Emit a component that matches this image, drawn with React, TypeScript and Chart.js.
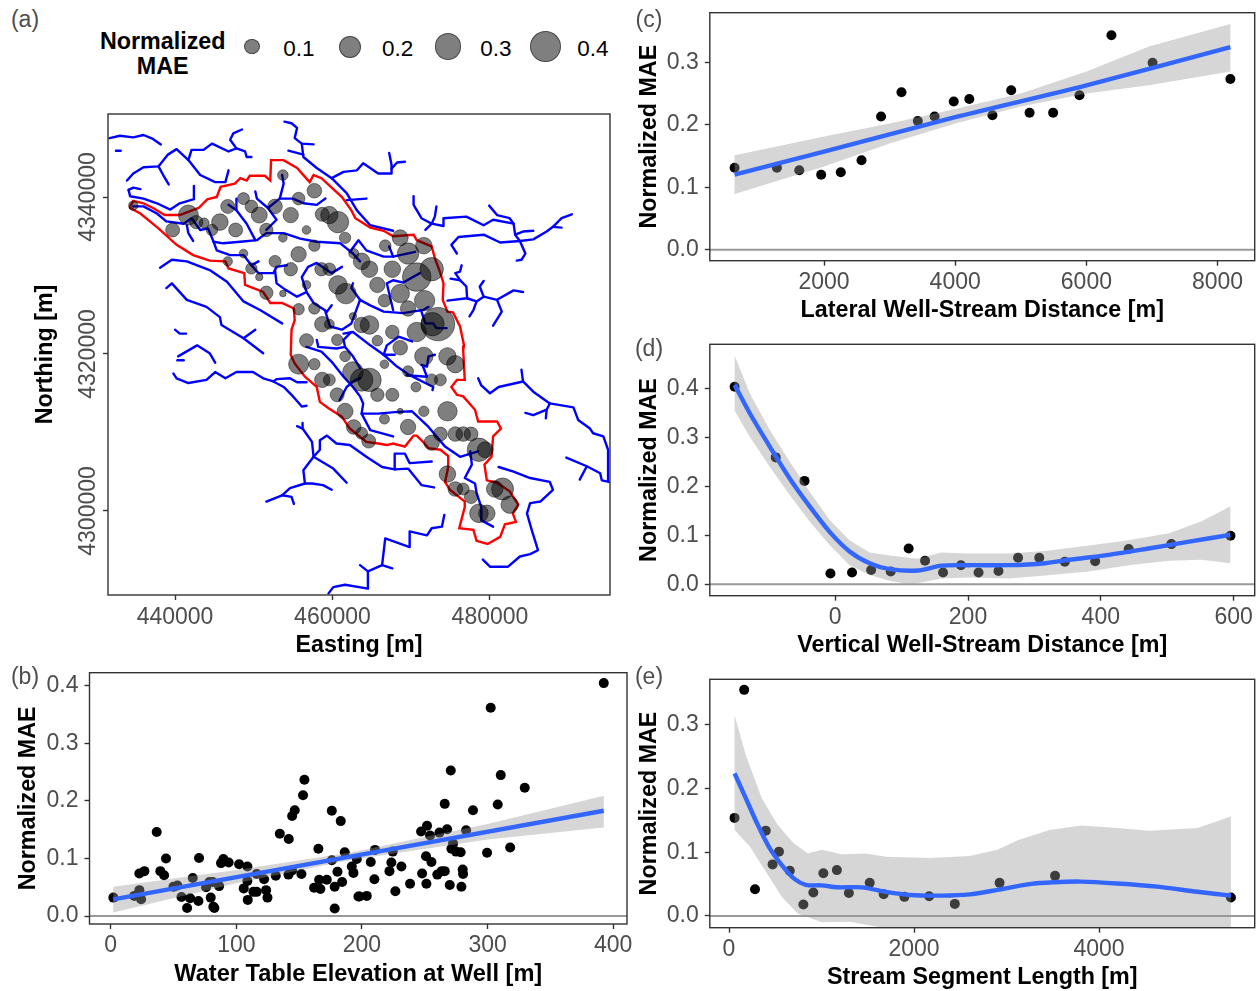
import React, { useEffect, useRef } from "react";
import { Chart, registerables } from "chart.js";

Chart.register(...registerables);

// ---------- Panel (a): map data. Eastings are km east of 400000 m, northings km north of 4300000 m ----------
const wellEastKm = [34.7,41.7,39.7,42.7,43.7,44.7,45.7,47.7,46.7,48.7,49.7,50.7,52.7,54.7,53.7,55.7,57.7,58.7,59.6,60.7,61.6,56.7,57.7,53.7,51.6,48.7,46.7,49.7,50.7,52.7,55.7,54.7,58.6,59.6,62.7,63.7,60.7,61.7,56.7,51.6,53.7,55.7,57.7,58.7,59.6,62.6,63.7,64.7,56.7,60.6,61.6,55.7,57.7,58.7,59.6,62.6,63.7,64.7,66.6,69.6,72.6,73.7,70.6,65.7,67.6,60.6,61.6,68.6,71.6,74.6,66.6,69.6,62.7,63.7,64.6,66.7,68.6,69.6,71.6,64.7,67.6,65.7,70.7,72.6,68.6,71.7,66.6,69.6,67.6,70.7,65.7,68.6,71.6,74.6,75.6,72.7,73.4,73.7,72.6,75.6,76.6,77.6,78.6,79.4,74.6,75.6,76.6,77.6,78.6,79.6,80.6,81.6,82.5];
const wellNorthKm = [38.9,37.7,35.8,36.8,36.7,35.8,36.8,35.8,38.8,39.8,38.8,37.7,38.8,37.7,42.8,39.8,40.8,37.8,37.7,36.8,34.8,35.8,33.8,34.8,35.8,32.8,31.8,30.9,29.8,31.8,32.7,30.8,30.8,30.8,32.8,31.8,28.8,27.7,28.8,27.8,27.7,25.7,25.8,23.8,23.8,24.8,23.7,23.7,21.7,21.8,19.7,18.7,18.7,16.7,16.7,17.7,16.7,16.7,18.7,17.8,16.7,16.7,15.8,14.8,14.8,14.8,12.7,12.7,12.7,12.7,11.7,10.7,10.7,9.9,8.9,33.8,34.8,32.8,33.8,30.8,30.8,28.8,29.8,30.8,27.7,26.8,26.8,25.8,22.8,22.8,21.7,20.8,19.7,19.7,18.7,23.8,23.8,9.8,8.7,9.8,9.8,9.8,7.8,7.8,4.7,2.8,2.8,1.8,-0.3,-0.3,2.8,2.8,0.8];
const wellMae = [.032,.146,.071,.065,.036,.047,.1,.071,.071,.052,.058,.093,.078,.086,.041,.058,.078,.071,.11,.167,.047,.027,.047,.027,.065,.027,.032,.047,.02,.052,.086,.065,.065,.058,.036,.1,.126,.155,.027,.065,.016,.047,.047,.086,.036,.02,.086,.126,.071,.047,.041,.146,.047,.086,.052,.155,.186,.2,.027,.044,.052,.052,.036,.065,.062,.071,.093,.013,.039,.137,.036,.086,.078,.052,.071,.049,.093,.167,.1,.1,.1,.086,.298,.2,.126,.152,.058,.086,.067,.137,.041,.078,.123,.11,.11,.2,.406,.071,.086,.078,.078,.071,.2,.093,.1,.078,.052,.065,.126,.1,.1,.176,.11];

const basinOutline = [34.3,38.8,34.7,39.5,36.0,39.2,37.2,38.6,38.7,37.7,40.6,37.7,43.0,38.6,44.1,39.7,45.3,40.0,45.8,41.3,47.6,41.7,48.3,42.4,49.1,42.1,49.5,42.7,51.4,42.7,52.1,42.1,52.2,44.7,53.8,44.7,55.5,43.7,57.1,41.9,57.6,42.8,58.6,42.4,61.2,40.0,62.4,38.3,62.9,37.3,64.8,36.1,66.5,35.7,67.7,35.0,70.3,35.2,70.7,34.5,72.6,33.7,73.0,32.2,73.7,30.3,74.1,29.0,74.0,26.9,74.6,25.4,75.3,25.3,76.2,23.5,76.7,21.1,76.6,20.5,76.8,16.7,75.8,16.7,75.1,15.8,75.8,14.8,76.6,14.6,78.1,12.9,78.5,11.4,80.9,11.4,81.4,10.5,80.4,9.5,80.2,6.9,79.3,5.9,79.6,3.9,80.9,3.6,82.5,2.5,83.6,0.8,82.9,-0.3,83.3,-1.4,81.9,-1.7,81.3,-3.3,79.7,-4.2,78.3,-3.8,77.9,-2.4,76.1,-2.2,76.8,0.5,76.8,1.2,74.9,2.7,74.3,3.7,74.7,5.6,74.7,7.0,73.7,7.8,72.2,8.0,71.5,8.8,70.7,9.6,70.3,9.6,69.2,8.2,67.7,8.6,66.9,8.4,65.8,8.6,64.3,8.8,62.2,10.5,61.2,12.0,59.5,13.1,58.4,13.9,58.0,15.8,56.5,17.1,55.2,18.8,54.7,19.9,54.8,23.1,55.2,24.3,55.1,25.8,53.6,26.5,52.1,26.5,51.2,27.9,48.9,28.8,48.8,30.3,46.8,30.9,46.4,31.8,44.4,31.9,42.3,32.6,40.2,33.9,37.9,36.0,35.6,37.9,34.3,38.6,34.3,38.8];

const streamReaches = [
  [31.7,47.5,33.0,47.8,34.7,47.6,36.0,47.9,37.2,47.4,38.2,46.7],
  [32.5,45.9,33.1,45.9],
  [33.9,42.1,34.7,43.0,36.0,43.8,37.9,43.9,39.1,45.4,40.2,46.1,41.7,44.7,43.2,42.8,45.1,41.9,46.4,41.9,46.8,43.4],
  [37.9,43.9,38.5,42.8,39.2,41.6],
  [41.7,44.7,42.1,46.0,43.6,46.0,44.7,46.8,46.8,45.8,47.8,46.2,47.0,47.3,47.4,48.1,48.5,48.6],
  [47.8,46.2,48.9,45.8,49.1,45.1,49.7,45.1],
  [53.9,49.6,54.8,49.4,55.5,48.8,55.2,47.5,56.1,46.8,57.6,46.7],
  [56.1,46.8,56.3,45.1,58.0,43.7,59.9,42.4,61.8,40.5,63.1,38.3,64.8,36.4,67.7,35.7],
  [54.4,45.9,56.3,45.4],
  [59.9,42.4,61.4,43.2,63.1,43.4,63.9,44.3,65.8,43.0,67.5,43.0,67.5,44.1,67.2,45.6],
  [67.5,43.6,68.2,44.4,69.2,44.5],
  [61.8,39.6,64.3,39.8],
  [34.1,40.9,34.3,40.1,36.0,39.8,37.7,39.2,39.4,38.4,40.6,39.2,42.3,39.7,42.4,41.4],
  [34.1,40.9,34.7,41.2,35.6,41.0],
  [34.7,38.8,36.0,38.8,37.7,37.9,38.9,36.9,41.1,36.6,42.1,37.3,43.2,35.8,44.2,36.0,44.9,34.3,46.1,34.1,48.3,34.3,50.4,34.5,51.6,35.4,53.8,35.4,55.9,34.7,58.0,34.3,61.0,34.1,62.6,32.8,63.5,31.8],
  [62.2,33.0,63.3,34.5,64.3,33.2,66.5,32.4,67.7,32.4,70.5,33.0],
  [67.2,33.7,67.7,32.4],
  [41.5,36.4,41.7,35.4,42.3,34.4],
  [47.8,39.8,47.8,38.3,49.1,36.6,50.2,34.5],
  [46.8,39.0,47.8,38.3],
  [51.6,35.8,52.9,37.1,51.8,38.6,53.3,39.8,55.0,39.8,56.3,39.2,58.0,39.0,59.1,39.8],
  [50.2,40.7,50.4,39.8,51.8,38.6],
  [53.3,39.8,53.8,41.7,53.6,42.8],
  [44.9,34.3,45.3,33.2,47.0,32.6,48.7,32.6,49.7,31.3,50.6,30.3,52.5,30.3,52.9,31.1,54.2,31.3],
  [49.7,31.3,50.6,31.8],
  [52.7,30.7,52.9,29.0,54.0,28.2,55.5,27.3,56.7,27.9,57.6,26.5,59.3,25.4],
  [56.7,27.9,56.1,29.8,56.9,31.1,58.0,31.6,59.9,30.3,61.2,31.1],
  [59.3,25.4,59.9,26.2],
  [38.1,31.0,39.6,32.0,41.5,31.8,44.4,30.7,46.6,29.2,48.7,26.7,50.8,25.6,53.6,23.9],
  [38.9,28.4,39.6,29.0,41.5,26.9,44.0,26.0,45.7,24.7,45.9,23.7,48.7,22.0,51.2,20.1],
  [48.7,22.0,50.2,23.1],
  [40.0,23.1,40.6,22.6,41.4,22.6],
  [40.4,19.7,42.8,21.1,44.4,20.1,45.1,18.9],
  [40.3,19.2,41.1,19.2],
  [39.8,17.5,40.2,16.9,41.7,16.3,44.0,16.7,45.1,17.7,46.4,16.9,47.8,17.7,49.9,17.7,51.2,16.9,52.5,16.5,53.8,15.8,54.8,14.8,56.1,13.3,56.7,13.4],
  [52.5,16.5,52.9,16.8,54.6,16.9,55.5,16.4,56.7,16.4],
  [55.5,10.8,56.2,10.5,57.4,8.8,57.6,6.9,56.3,5.2,56.5,3.5,54.6,2.9,53.6,2.0,51.6,1.2],
  [56.2,11.2,56.2,10.5],
  [57.6,6.9,58.4,7.8,58.4,9.0,59.3,9.6,60.5,8.6,62.2,8.4,64.3,6.9,66.3,5.6,67.9,5.3,69.6,5.4,71.3,3.3,72.9,3.0],
  [67.9,5.3,67.9,7.3,69.2,7.3,69.8,6.1,72.6,6.3],
  [57.6,6.9,60.1,5.4,61.8,3.6],
  [56.5,3.5,57.4,3.5,58.8,3.3,59.9,2.7],
  [53.6,2.0,54.8,1.8,55.1,0.9],
  [59.5,-10.5,60.1,-9.7,61.6,-9.4,64.5,-9.9,64.5,-7.7,66.3,-6.9,66.7,-3.5,69.8,-4.6,69.8,-2.6,72.0,-3.1,72.6,-2.2,73.9,-2.0,74.2,-0.5],
  [66.3,-6.9,67.6,-7.3],
  [64.5,-7.7,63.5,-6.9],
  [59.1,25.4,59.7,23.5,61.2,23.1,62.4,23.9,63.5,26.9,64.8,26.2,66.5,25.4,69.0,25.2,70.1,25.4,71.5,25.6,72.2,26.0],
  [63.5,26.9,62.4,28.4,62.6,29.0],
  [67.7,25.6,66.9,29.0,67.7,29.4,69.0,29.1,71.1,30.3],
  [71.3,25.4,71.8,23.9,72.8,23.9,73.2,23.3,74.5,23.3],
  [61.4,22.6,62.6,22.8,64.8,21.1,66.5,19.9,68.2,18.4,69.8,17.3,72.8,15.8,72.7,15.4],
  [66.5,19.9,66.9,21.1,68.4,22.2,70.1,21.6],
  [66.5,19.9,67.9,19.9],
  [71.3,18.6,72.0,18.4,72.2,19.7,73.0,19.9],
  [69.4,17.3,72.0,17.1,71.5,18.4],
  [56.7,20.9,58.6,20.3,59.9,19.0,61.4,17.1,62.6,15.8,63.5,14.6,63.9,13.7,63.7,12.4,65.8,12.4,67.9,12.6,70.1,12.7,72.2,10.7,74.3,8.2,76.2,6.9,78.5,7.6],
  [58.0,21.8,58.2,20.9,60.5,20.7,61.6,20.9,62.6,19.7,63.5,18.2],
  [61.6,20.9,61.4,21.8,62.4,22.8],
  [60.9,14.1,61.8,15.8,62.9,16.7,63.5,16.9],
  [63.7,12.4,64.8,10.3,67.7,9.5],
  [77.5,7.6,77.7,5.9,76.8,4.2,78.1,3.5,78.3,2.3,78.9,0.5,78.9,-1.2,80.4,-2.0],
  [70.3,40.1,70.3,39.0,71.3,37.3,72.6,36.6,74.1,36.3,74.1,37.3,77.0,37.5,79.2,36.4,80.4,37.1,83.0,36.6,83.2,35.2,84.2,35.6,85.5,35.7],
  [71.8,35.8,72.6,36.6],
  [72.6,36.6,73.0,37.5,73.2,38.8],
  [79.9,38.9,80.9,37.7,82.5,37.3,83.0,36.6],
  [75.8,32.8,75.1,33.9,76.0,34.9,79.2,35.2,81.3,34.2,83.8,34.4,85.5,34.6,87.2,35.6,88.0,36.2,89.1,37.3,90.4,37.8],
  [83.2,35.2,83.8,34.4,84.5,32.8,84.0,32.0,83.4,31.9],
  [88.0,36.2,89.1,36.1],
  [76.4,31.3,76.2,30.5,75.6,30.3,76.2,29.4,77.0,28.6,77.1,27.1,74.6,26.8],
  [77.1,27.1,78.3,26.7,79.2,27.3,80.9,26.9,83.0,28.1,84.2,27.9],
  [78.3,26.7,77.9,25.6,77.4,24.8],
  [79.2,27.3,78.7,28.6,79.2,29.3],
  [80.9,26.9,81.5,25.4,80.4,23.6],
  [75.0,29.6,76.2,29.4],
  [78.5,16.9,78.9,16.0,80.0,15.0,81.1,15.8,84.2,16.5,85.5,15.2,87.6,13.7,90.6,13.2,91.2,11.6,92.7,10.5,93.1,9.9,94.4,9.5,95.0,7.8,95.0,3.9],
  [84.0,18.0,84.2,16.5],
  [87.6,13.7,87.2,12.9,85.5,12.2,84.5,12.5],
  [87.2,12.9,87.1,11.8],
  [89.7,6.8,92.3,5.7,94.0,4.8,94.2,3.9,95.1,3.7],
  [92.3,5.7,91.4,4.0],
  [81.1,5.6,83.0,5.0,85.1,4.2,87.6,3.7,88.0,2.7,86.4,1.2,85.1,1.0,84.7,-0.3,85.3,-2.4,86.1,-5.0,85.1,-5.5,83.8,-5.8,82.3,-7.1,80.0,-7.1,79.1,-6.2],
];

const eastingTicks = [440000, 460000, 480000];
const northingTicks = [4300000, 4320000, 4340000];
const legendValues = [0.1, 0.2, 0.3, 0.4];

// ---------- Panel (b) ----------
const elevationX = [2.1,18.8,22.8,24.2,22.8,26.8,36.6,39.5,42.5,44,49.9,53.1,56.3,63.2,60.8,65.3,69.8,70.3,75.9,78.6,81.2,79.6,81.7,82.5,86.3,87.8,89.7,93.9,102.2,108.8,105.9,108.8,109.1,113.6,116.2,116.2,122.1,123.7,124.8,131.4,134.6,141.5,141.7,144.4,144.4,146.5,151.8,153.1,154.2,161.9,165.3,165.9,166.9,172,176,176,178.3,178.3,180.5,183.1,184.2,186.3,191.9,193.2,195.9,198,392.5,302.5,270.7,310.5,329.6,265.9,288.4,308.1,251.8,267.8,247.1,254.2,261.7,282.9,272.5,210.4,224.5,271.2,274.9,278.6,299.6,318,251,255.3,207,223.4,231.4,221.9,209.9,247.9,260,263.5,265.9,280.2,280.5,238.3,251.3,269.9,279.2,226.6,197.2,203.8];
const elevationY = [.032,.035,.045,.029,.074,.078,.146,.078,.071,.1,.051,.053,.033,.031,.014,.066,.026,.101,.05,.059,.059,.032,.016,.014,.052,.092,.099,.093,.09,.086,.048,.061,.028,.042,.042,.073,.064,.045,.032,.07,.143,.072,.134,.079,.174,.184,.073,.21,.237,.049,.117,.063,.047,.063,.183,.097,.051,.013,.077,.165,.059,.111,.086,.075,.099,.034,.405,.362,.253,.245,.223,.195,.184,.194,.157,.151,.147,.14,.145,.149,.126,.115,.112,.117,.112,.111,.11,.119,.104,.094,.094,.093,.086,.078,.064,.074,.072,.078,.078,.081,.073,.056,.056,.054,.051,.043,.034,.035];
const elevationFitX = [2, 392.5];
const elevationFitY = [.029, .183];
const elevationBandX = [2,100,190,300,392.5,392.5,300,190,100,2];
const elevationBandY = [.051,.08,.11,.16,.209,.154,.133,.097,.057,.006];

// ---------- Panel (c) ----------
const lateralX = [637,1282,1623,1957,2256,2572,2870,3181,3430,3686,3978,4215,4568,4854,5134,5493,5895,6382,7009,8195];
const lateralY = [.131,.131,.127,.12,.124,.143,.213,.252,.206,.213,.237,.241,.215,.255,.219,.219,.247,.343,.299,.273];
const lateralFitX = [637,2000,4000,6000,8195];
const lateralFitY = [.12,.157,.212,.263,.324];
const lateralBandX = [637,1282,2000,3000,4000,5000,6000,6954,8195,8195,6954,6000,5000,4000,3000,2000,637];
const lateralBandY = [.151,.165,.181,.202,.225,.25,.285,.325,.361,.285,.263,.25,.229,.202,.17,.133,.089];

// ---------- Panel (d) ----------
const verticalX = [-151.5,-89.6,-46.3,-7.2,25.3,54.1,83.6,110.6,135.3,162.4,189.4,215.9,245.9,275.4,307.3,345.8,391.5,442,506.3,595.3];
const verticalY = [.403,.259,.211,.022,.024,.029,.026,.073,.048,.024,.039,.024,.027,.054,.054,.046,.047,.072,.082,.099];
const verticalFitX = [-151.5,-128.7,-98.6,-68.6,-38.5,-8.4,21.6,51.7,81.8,123.9,160,202,262,316,352,412,472,533,595];
const verticalFitY = [.407,.349,.281,.216,.159,.107,.067,.043,.031,.028,.038,.039,.039,.043,.05,.06,.073,.087,.101];
const verticalBandX = [-151.5,-128.7,-98.6,-68.6,-38.5,-8.4,21.6,51.7,81.8,123.9,160,202,262,316,382,442,502.7,551,595,595,551,502.7,442,382,316,262,202,160,135.9,111.8,81.8,51.7,21.6,-8.4,-38.5,-68.6,-98.6,-128.7,-151.5];
const verticalBandY = [.467,.39,.315,.25,.189,.131,.09,.065,.059,.052,.065,.063,.063,.068,.079,.09,.104,.128,.159,.043,.05,.048,.039,.026,.018,.012,.014,.012,.005,0,.007,.019,.039,.08,.128,.182,.24,.301,.354];

// ---------- Panel (e) ----------
const segmentX = [60,164,281,397,471,540,657,804,912,1020,1166,1296,1521,1672,1896,2164,2441,2925,3525,5426];
const segmentY = [.154,.355,.042,.134,.081,.101,.071,.018,.037,.067,.072,.036,.052,.034,.03,.031,.019,.052,.063,.029];
const segmentFitX = [60,181,311,441,570,700,829,1002,1175,1434,1693,1953,2298,2600,2903,3249,3508,3810,4199,4631,5063,5426];
const segmentFitY = [.224,.185,.143,.106,.08,.059,.049,.048,.045,.045,.038,.033,.032,.034,.041,.05,.053,.054,.051,.046,.038,.032];
const segmentBandX = [60,181,354,527,700,851,1002,1218,1477,1693,2169,2600,2903,3119,3465,3810,4199,4545,5063,5426,5426,4500,3500,2500,1700,1607,1305,1002,743,570,397,225,60];
const segmentBandY = [.315,.253,.185,.143,.114,.098,.104,.097,.098,.093,.091,.094,.104,.119,.135,.142,.138,.134,.138,.156,-.09,-.04,-.03,-.025,-.022,-.017,-.009,-.01,.004,.03,.07,.109,.135];

// ---------- Shared styling ----------
const FONT = "'Liberation Sans', Arial, sans-serif";
const TICK_COLOR = "#4d4d4d";
const FRAME = "#333333";
const pairs = (xs: number[], ys: number[]) => xs.map((x, i) => ({ x, y: ys[i] }));

const framePlugin = {
  id: "frame",
  afterDatasetsDraw(chart: any) {
    const { ctx, chartArea: a } = chart;
    ctx.save();
    ctx.strokeStyle = FRAME;
    ctx.lineWidth = 1.4;
    ctx.strokeRect(a.left, a.top, a.right - a.left, a.bottom - a.top);
    ctx.restore();
  },
};

function axis(o: any) {
  return {
    type: "linear",
    min: o.min,
    max: o.max,
    afterBuildTicks(s: any) {
      s.ticks = o.ticks.map((value: number) => ({ value }));
    },
    afterFit(s: any) {
      if (o.size !== undefined) {
        if (s.isHorizontal()) s.height = o.size;
        else s.width = o.size;
      }
      s.paddingLeft = 0;
      s.paddingRight = 0;
      s.paddingTop = 0;
      s.paddingBottom = 0;
    },
    border: { display: false },
    grid: {
      drawOnChartArea: false,
      drawTicks: true,
      tickLength: 5,
      tickColor: FRAME,
      tickWidth: 1.4,
    },
    ticks: {
      autoSkip: false,
      color: TICK_COLOR,
      font: { family: FONT, size: 23 },
      padding: o.tickPad ?? 3,
      minRotation: o.rotation ?? 0,
      maxRotation: o.rotation ?? 0,
      crossAlign: o.rotation ? "center" : "near",
      callback: o.format,
    },
    title: {
      display: true,
      text: o.title,
      color: "#000000",
      font: { family: FONT, size: o.titleSize ?? 23.3, weight: "bold" },
      padding: { top: o.titleTop ?? 0, bottom: o.titleBottom ?? 0 },
    },
  };
}

const fmt1 = (v: number) => v.toFixed(1);
const fmt0 = (v: number) => String(v);

function smoothDatasets(o: any) {
  return [
    {
      type: "line",
      data: pairs(o.fitX, o.fitY),
      borderColor: "#3366FF",
      borderWidth: 4.4,
      pointRadius: 0,
      tension: 0.3,
      fill: false,
      borderCapStyle: "butt",
    },
    {
      type: "line",
      data: pairs(o.bandX, o.bandY),
      borderWidth: 0,
      borderColor: "rgba(0,0,0,0)",
      backgroundColor: "rgba(153,153,153,0.4)",
      pointRadius: 0,
      tension: 0,
      fill: "shape",
    },
    {
      type: "line",
      data: [
        { x: o.xMin, y: 0 },
        { x: o.xMax, y: 0 },
      ],
      borderColor: "#999999",
      borderWidth: 2,
      pointRadius: 0,
      fill: false,
    },
    {
      type: "scatter",
      data: pairs(o.x, o.y),
      backgroundColor: "#000000",
      borderWidth: 0,
      pointRadius: 5,
    },
  ];
}

function baseConfig(datasets: any[], scales: any, padding: any) {
  return {
    type: "scatter",
    data: { datasets },
    plugins: [framePlugin],
    options: {
      animation: false,
      responsive: false,
      devicePixelRatio: 1,
      events: [],
      layout: { padding, autoPadding: false },
      plugins: { legend: { display: false }, tooltip: { enabled: false }, title: { display: false } },
      scales,
    },
  };
}

function mapConfig() {
  const toE = (k: number) => 400000 + k * 1000;
  const toN = (k: number) => 4300000 + k * 1000;
  const polyline = (flat: number[]) => {
    const pts = [];
    for (let i = 0; i < flat.length; i += 2) pts.push({ x: toE(flat[i]), y: toN(flat[i + 1]) });
    return pts;
  };
  const datasets: any[] = [
    {
      type: "bubble",
      data: wellEastKm.map((e, i) => ({ x: toE(e), y: toN(wellNorthKm[i]), r: 26.2 * Math.sqrt(wellMae[i]) })),
      backgroundColor: "rgba(0,0,0,0.5)",
      borderColor: "rgba(0,0,0,0.45)",
      borderWidth: 1,
    },
    {
      type: "line",
      data: polyline(basinOutline),
      borderColor: "#FF0000",
      borderWidth: 2.4,
      pointRadius: 0,
      tension: 0,
      fill: false,
    },
    ...streamReaches.map((r) => ({
      type: "line",
      data: polyline(r),
      borderColor: "#0000FF",
      borderWidth: 2.4,
      pointRadius: 0,
      tension: 0,
      fill: false,
      borderCapStyle: "round",
      borderJoinStyle: "round",
    })),
  ];
  return baseConfig(
    datasets,
    {
      x: axis({ min: 431490, max: 495245, ticks: eastingTicks, format: fmt0, title: "Easting [m]", size: 70, titleBottom: 5, tickPad: 4 }),
      y: axis({ min: 4289295, max: 4350575, ticks: northingTicks, format: fmt0, title: "Northing [m]", size: 108, titleTop: 32, rotation: 90, tickPad: -30 }),
    },
    { left: 0, top: 14, right: 15, bottom: 0 }
  );
}

function smoothConfig(o: any) {
  return baseConfig(
    smoothDatasets(o),
    {
      x: axis({ min: o.xMin, max: o.xMax, ticks: o.xTicks, format: fmt0, title: o.xTitle, size: o.xSize, titleBottom: o.xTitleBottom, titleSize: o.xTitleSize }),
      y: axis({ min: o.yMin, max: o.yMax, ticks: o.yTicks, format: fmt1, title: "Normalized MAE", size: o.ySize, titleTop: o.yTitleTop, tickPad: 6 }),
    },
    o.padding
  );
}

const panels = [
  { key: "a", left: 0, top: 100, width: 625, height: 565, config: mapConfig },
  {
    key: "b", left: 0, top: 665, width: 640, height: 326,
    config: () => smoothConfig({
      x: elevationX, y: elevationY, fitX: elevationFitX, fitY: elevationFitY, bandX: elevationBandX, bandY: elevationBandY,
      xMin: -16.9, xMax: 411, yMin: -0.0139, yMax: 0.4231,
      xTicks: [0, 100, 200, 300, 400], yTicks: [0, 0.1, 0.2, 0.3, 0.4],
      xTitle: "Water Table Elevation at Well [m]", xTitleSize: 23.6, xSize: 67, ySize: 89.5, xTitleBottom: 2, yTitleTop: 15,
      padding: { left: 0, top: 7.7, right: 13, bottom: 0 },
    }),
  },
  {
    key: "c", left: 630, top: 0, width: 626, height: 330,
    config: () => smoothConfig({
      x: lateralX, y: lateralY, fitX: lateralFitX, fitY: lateralFitY, bandX: lateralBandX, bandY: lateralBandY,
      xMin: 259, xMax: 8566, yMin: -0.0176, yMax: 0.3792,
      xTicks: [2000, 4000, 6000, 8000], yTicks: [0, 0.1, 0.2, 0.3],
      xTitle: "Lateral Well-Stream Distance [m]", xSize: 69.3, ySize: 79.8, xTitleBottom: 5, yTitleTop: 6,
      padding: { left: 0, top: 12.7, right: 1.3, bottom: 0 },
    }),
  },
  {
    key: "d", left: 630, top: 335, width: 626, height: 330,
    config: () => smoothConfig({
      x: verticalX, y: verticalY, fitX: verticalFitX, fitY: verticalFitY, bandX: verticalBandX, bandY: verticalBandY,
      xMin: -188.9, xMax: 631.8, yMin: -0.0233, yMax: 0.4898,
      xTicks: [0, 200, 400, 600], yTicks: [0, 0.1, 0.2, 0.3, 0.4],
      xTitle: "Vertical Well-Stream Distance [m]", xSize: 69.3, ySize: 79.8, xTitleBottom: 5, yTitleTop: 6,
      padding: { left: 0, top: 9.3, right: 1.3, bottom: 0 },
    }),
  },
  {
    key: "e", left: 630, top: 665, width: 626, height: 326,
    config: () => smoothConfig({
      x: segmentX, y: segmentY, fitX: segmentFitX, fitY: segmentFitY, bandX: segmentBandX, bandY: segmentBandY,
      xMin: -207.6, xMax: 5683, yMin: -0.0184, yMax: 0.3716,
      xTicks: [0, 2000, 4000], yTicks: [0, 0.1, 0.2, 0.3],
      xTitle: "Stream Segment Length [m]", xSize: 63.3, ySize: 79.8, xTitleBottom: -1, yTitleTop: 6,
      padding: { left: 0, top: 14.3, right: 1.3, bottom: 0 },
    }),
  },
];

function Panel({ p }: { p: any }) {
  const ref = useRef<HTMLCanvasElement | null>(null);
  useEffect(() => {
    const chart = new Chart(ref.current as any, p.config() as any);
    return () => chart.destroy();
  }, []);
  return (
    <canvas
      ref={ref}
      width={p.width}
      height={p.height}
      style={{ position: "absolute", left: p.left, top: p.top, width: p.width, height: p.height }}
    />
  );
}

function Label({ x, y, text, size = 22, color = "#000", bold = false }: any) {
  return (
    <div
      style={{
        position: "absolute",
        left: x,
        top: y,
        transform: "translate(-50%, -50%)",
        font: `${bold ? "bold " : ""}${size}px ${FONT}`,
        color,
        whiteSpace: "nowrap",
        lineHeight: 1,
      }}
    >
      {text}
    </div>
  );
}

const tags = [
  { text: "(a)", x: 25, y: 19 },
  { text: "(b)", x: 25, y: 676 },
  { text: "(c)", x: 649, y: 19 },
  { text: "(d)", x: 649, y: 348 },
  { text: "(e)", x: 649, y: 676 },
];
const legendCircleX = [252, 350, 448, 545.4];
const legendTextX = [299, 397.6, 496, 593];

export default function App() {
  return (
    <div style={{ position: "absolute", left: 0, top: 0, width: 1256, height: 991, overflow: "hidden", background: "#fff" }}>
      {panels.map((p) => (
        <Panel key={p.key} p={p} />
      ))}
      {tags.map((t) => (
        <Label key={t.text} x={t.x} y={t.y} text={t.text} size={23} color={TICK_COLOR} />
      ))}
      <Label x={162.7} y={42} text="Normalized" size={23.3} bold />
      <Label x={162.7} y={67} text="MAE" size={23.3} bold />
      {legendValues.map((v, i) => {
        const r = 24.5 * Math.sqrt(v);
        return (
          <React.Fragment key={v}>
            <div
              style={{
                position: "absolute",
                left: legendCircleX[i] - r,
                top: 46.7 - r,
                width: 2 * r,
                height: 2 * r,
                borderRadius: "50%",
                boxSizing: "border-box",
                background: "rgba(0,0,0,0.5)",
                border: "1px solid rgba(0,0,0,0.45)",
              }}
            />
            <Label x={legendTextX[i]} y={48.5} text={v.toFixed(1)} size={22.5} />
          </React.Fragment>
        );
      })}
    </div>
  );
}
